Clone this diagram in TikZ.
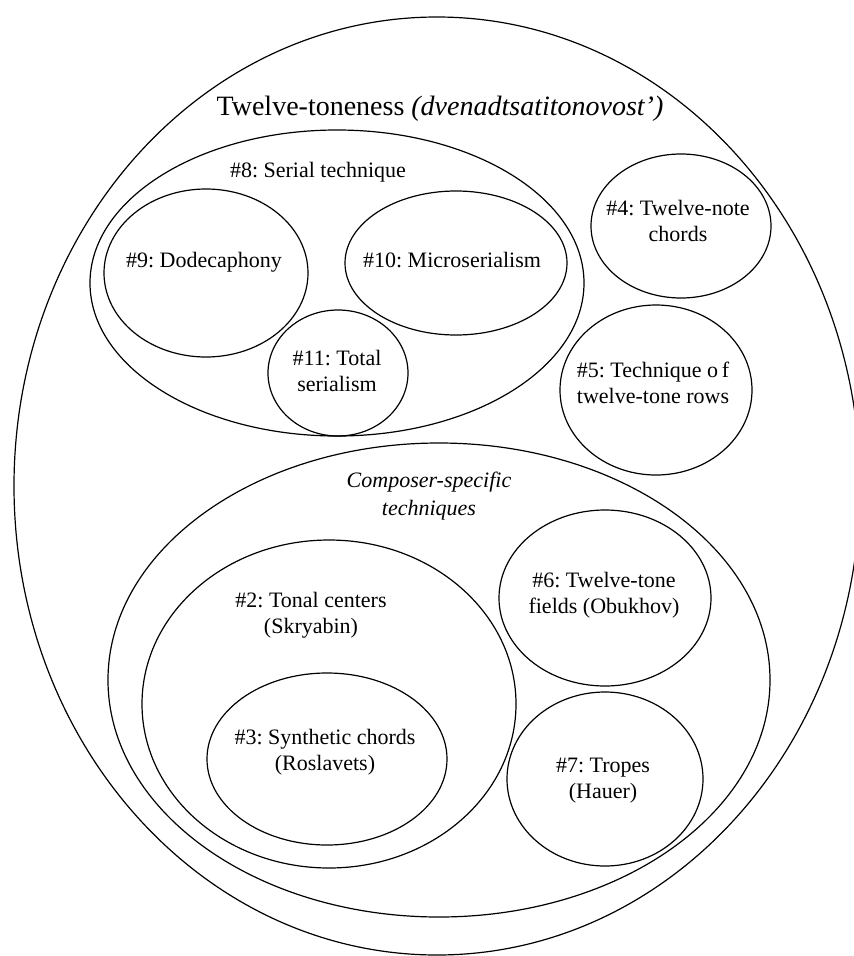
\documentclass[tikz,border=0pt]{standalone}
\usepackage{fontspec}
\setmainfont{Liberation Serif}
\frenchspacing
\begin{document}
\begin{tikzpicture}[x=1pt,y=-1pt,
  ring/.style={draw=black, line width=1.2pt},
  lbl/.style={anchor=base, inner sep=0pt, font=\fontsize{22}{26}\selectfont},
  ttl/.style={anchor=base, inner sep=0pt, font=\fontsize{28}{32}\selectfont}]
\useasboundingbox (0,0) rectangle (854,956);
% outer
\draw[ring] (437,486) ellipse [x radius=423, y radius=469];
% serial technique group
\draw[ring] (337,283) ellipse [x radius=247, y radius=153];
\draw[ring] (206,273) ellipse [x radius=102, y radius=84];
\draw[ring] (456,263) ellipse [x radius=111, y radius=72];
\draw[ring] (338,373) ellipse [x radius=70, y radius=63];
% right singles
\draw[ring] (681,226) ellipse [x radius=90, y radius=72];
\draw[ring] (656,390) ellipse [x radius=96, y radius=85];
% composer-specific group
\draw[ring] (439,680) ellipse [x radius=331, y radius=237];
\draw[ring] (329,704) ellipse [x radius=187, y radius=164];
\draw[ring] (327,759) ellipse [x radius=120, y radius=86];
\draw[ring] (605,598) ellipse [x radius=106, y radius=88];
\draw[ring] (605,779) ellipse [x radius=98, y radius=87];
% labels
\node[ttl] (title) at (440,115) {Twelve-toneness \textit{(dvenadtsatitonovost’)}};
\node[lbl] (l8) at (318,177) {\#8: Serial technique};
\node[lbl] (l9) at (204,267) {\#9: Dodecaphony};
\node[lbl] (l10) at (452,267) {\#10: Microserialism};
\node[lbl] (l11) at (337,365) {\begin{tabular}[t]{@{}c@{}}\#11: Total\\serialism\end{tabular}};
\node[lbl] (l4) at (678,215) {\begin{tabular}[t]{@{}c@{}}\#4: Twelve-note\\chords\end{tabular}};
\node[lbl] (l5) at (653,377) {\begin{tabular}[t]{@{}c@{}}\#5: Technique o\,f\\twelve-tone rows\end{tabular}};
\node[lbl, font=\fontsize{22}{28}\selectfont\itshape] (lc) at (429,487) {\begin{tabular}[t]{@{}c@{}}Composer-specific\\techniques\end{tabular}};
\node[lbl] (l2) at (311,607) {\begin{tabular}[t]{@{}c@{}}\#2: Tonal centers\\(Skryabin)\end{tabular}};
\node[lbl] (l3) at (325,744) {\begin{tabular}[t]{@{}c@{}}\#3: Synthetic chords\\(Roslavets)\end{tabular}};
\node[lbl] (l6) at (604,587) {\begin{tabular}[t]{@{}c@{}}\#6: Twelve-tone\\fields (Obukhov)\end{tabular}};
\node[lbl] (l7) at (603,772) {\begin{tabular}[t]{@{}c@{}}\#7: Tropes\\(Hauer)\end{tabular}};
\end{tikzpicture}
\end{document}
